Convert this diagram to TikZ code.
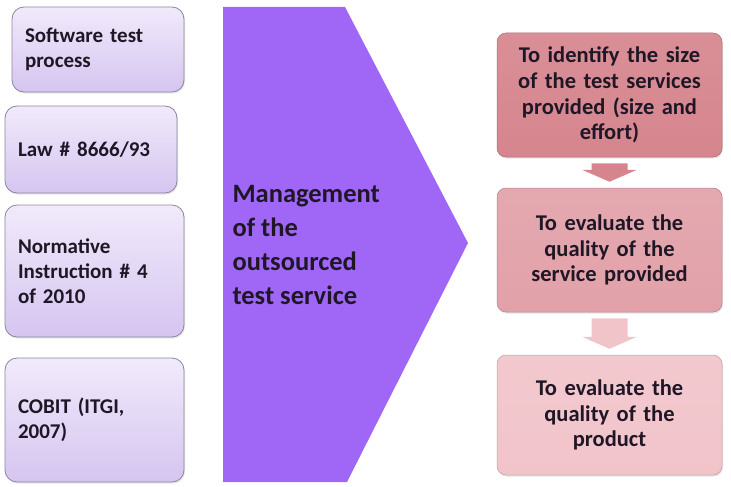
\documentclass[tikz,border=0pt]{standalone}
\usepackage{fontspec}
\setmainfont{Carlito}
\usetikzlibrary{calc,shadows}

\definecolor{lavtop}{HTML}{F1EAFB}
\definecolor{lavbot}{HTML}{D5C5F0}
\definecolor{lavline}{HTML}{8E84A0}
\definecolor{chevron}{HTML}{A067F6}
\definecolor{goalA}{HTML}{D6858E}
\definecolor{goalB}{HTML}{E2A1A9}
\definecolor{goalC}{HTML}{F1C4CA}
\definecolor{inktext}{HTML}{1F1726}

\tikzset{
  inputbox/.style={draw=lavline, line width=0.8pt, rounded corners=12pt,
    top color=lavtop, bottom color=lavbot, align=left, inner xsep=13pt,
    font=\bfseries\fontsize{21}{25}\selectfont, text=inktext,
    drop shadow={opacity=0.2, shadow xshift=1pt, shadow yshift=-1.5pt}},
  goalbox/.style={draw=#1!80!black, line width=0.5pt, rounded corners=9pt,
    top color=#1!92!white, bottom color=#1, align=center,
    minimum width=225pt, text width=215pt, inner xsep=5pt,
    font=\bfseries\fontsize{22.5}{25.7}\selectfont, text=inktext,
    drop shadow={opacity=0.2, shadow xshift=1pt, shadow yshift=-1.5pt}}
}

\newcommand{\blockarrow}[3]{%
  \fill[#3] ($(#1.south)+(-18,6)$) -- ($(#1.south)+(18,6)$)
    -- ($(#2.north)+(18,-18)$) -- ($(#2.north)+(27.5,-18)$)
    -- ($(#2.north)+(0,-6)$) -- ($(#2.north)+(-27.5,-18)$)
    -- ($(#2.north)+(-18,-18)$) -- cycle;}

\begin{document}
\begin{tikzpicture}[x=1pt, y=-1pt]

  \useasboundingbox (0,0) rectangle (731,487);

  % --- inputs ---
  \node[inputbox, minimum width=172pt, minimum height=85pt, text width=146pt]
    (soft) at (98,49.5) {Software test\\process};
  \node[inputbox, minimum width=172pt, minimum height=87pt, text width=146pt]
    (law) at (91,149.5) {Law \# 8666/93};
  \node[inputbox, minimum width=179pt, minimum height=132pt, text width=153pt]
    (norm) at (94.5,271) {Normative\\Instruction \# 4\\of 2010};
  \node[inputbox, minimum width=179pt, minimum height=124pt, text width=153pt]
    (cobit) at (94.5,420) {COBIT (ITGI,\\2007)};

  % --- management chevron ---
  \fill[chevron] (223,7) -- (345,7) -- (468,243) -- (347,482) -- (223,482) -- cycle;
  \node[anchor=west, align=left, text=inktext,
    font=\bfseries\fontsize{26.5}{34}\selectfont]
    (mgmt) at (229,245) {Management\\of the\\outsourced\\test service};

  % --- goals ---
  \node[goalbox=goalA, minimum height=124pt] (size) at (609.5,95)
    {To identify the size\\of the test services\\provided (size and\\effort)};
  \node[goalbox=goalB, minimum height=124pt] (servq) at (609.5,250)
    {To evaluate the\\quality of the\\service provided};
  \node[goalbox=goalC, minimum height=120pt] (prodq) at (609.5,415)
    {To evaluate the\\quality of the\\product};

  % --- block arrows ---
  \blockarrow{size}{servq}{goalA}
  \blockarrow{servq}{prodq}{goalC}

\end{tikzpicture}
\end{document}
